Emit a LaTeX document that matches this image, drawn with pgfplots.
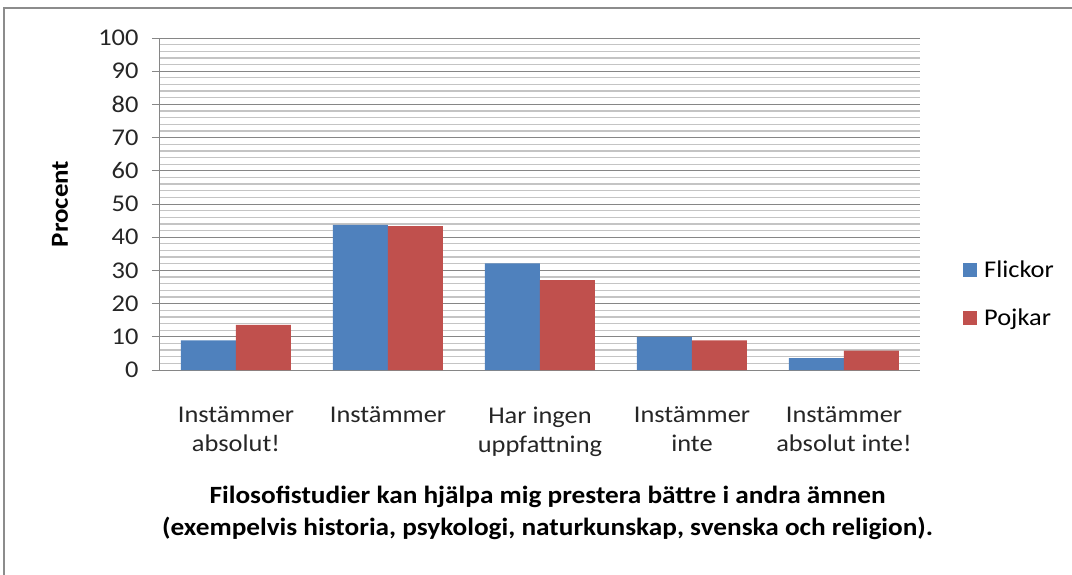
\documentclass[border=0pt]{standalone}
\usepackage{fontspec}
\setmainfont[FakeStretch=1.1]{Carlito}
\usepackage{pgfplots}
\pgfplotsset{compat=1.18}
\definecolor{cBlue}{RGB}{79,129,189}
\definecolor{cRed}{RGB}{192,80,77}
\definecolor{gMaj}{RGB}{134,134,134}
\definecolor{gMin}{RGB}{196,196,196}
\definecolor{frameC}{RGB}{140,140,140}
\begin{document}
\begin{tikzpicture}[x=1pt,y=1pt,font=\fontsize{24}{29}\selectfont]
\path[use as bounding box] (-160,-204) rectangle (912,370);
\draw[frameC, line width=1.5pt] (-156,-210) -- (-156,362) -- (920,362);
\begin{axis}[
  at={(0,0)}, anchor=south west,
  scale only axis, width=760pt, height=332pt,
  ymin=0, ymax=100, ytick={0,10,...,100},
  minor y tick num=4,
  xmin=-0.5, xmax=4.5,
  xtick=data,
  xticklabels={{Instämmer\\absolut!},{Instämmer},{Har ingen\\uppfattning},{Instämmer\\inte},{Instämmer\\absolut inte!}},
  xticklabel style={align=center, anchor=north, yshift=-25pt, text=black!85},
  yticklabel style={xshift=-10pt, text=black!85},
  /pgf/number format/assume math mode=true,
  ymajorgrids, yminorgrids,
  major grid style={gMaj, line width=1pt},
  minor grid style={gMin, line width=1.3pt},
  tick align=outside,
  major tick length=8pt, minor tick length=0pt,
  ytick style={gMaj, line width=1pt},
  xtick style={draw=none},
  axis x line*=bottom, axis y line*=left,
  axis line style={gMaj, line width=1pt, -},
  ybar=0pt, bar width=55pt,
  ylabel={Procent},
  every axis y label/.style={at={(axis description cs:-0.1316,0.5)}, rotate=90, anchor=center, font=\fontsize{24.5}{29}\selectfont\bfseries},
  xlabel={Filosofistudier kan hjälpa mig prestera bättre i andra ämnen\\(exempelvis historia, psykologi, naturkunskap, svenska och religion).},
  every axis x label/.style={at={(axis description cs:0.51,-0.4307)}, anchor=center, align=center, font=\fontsize{24.8}{32}\selectfont\bfseries},
  legend style={draw=none, fill=none, inner sep=0pt, at={(axis description cs:1.0566,0.229)}, anchor=west, row sep=25pt, cells={anchor=west}},
  legend image code/.code={\fill[#1] (0pt,-7pt) rectangle (14pt,7pt); \path (19pt,0pt);},
  legend cell align=left,
]
\addplot[fill=cBlue, draw=none] coordinates {(0,8.9) (1,43.7) (2,32.1) (3,10.0) (4,3.6)};
\addplot[fill=cRed, draw=none] coordinates {(0,13.6) (1,43.3) (2,27.1) (3,8.9) (4,5.8)};
\legend{Flickor,Pojkar}
\end{axis}
\end{tikzpicture}
\end{document}
